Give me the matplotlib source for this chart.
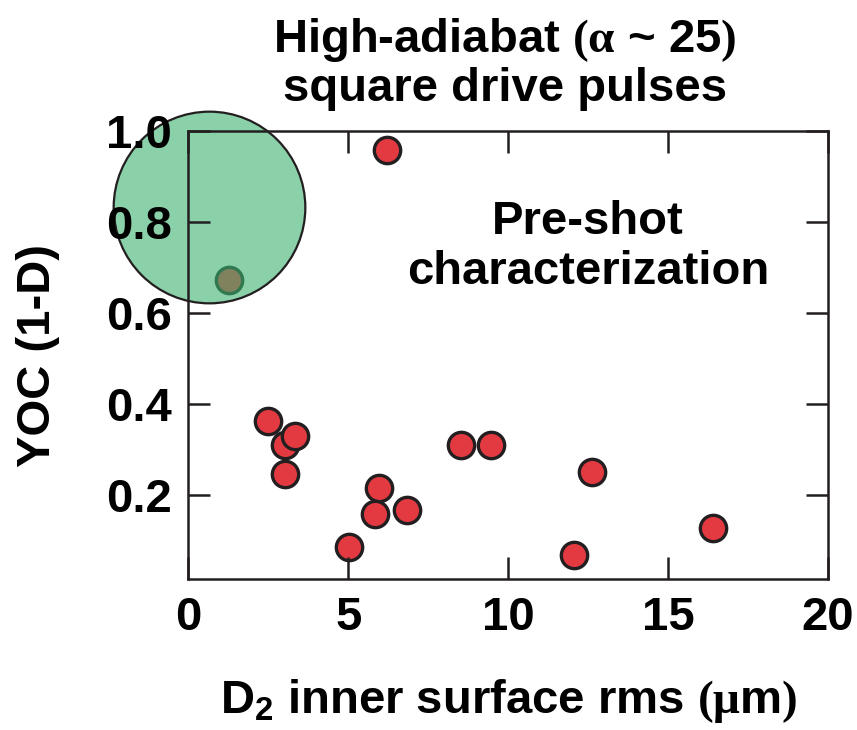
import numpy as np
import matplotlib
matplotlib.use('Agg')
from matplotlib import pyplot as plt

# pre-shot characterization: D2 inner surface roughness vs yield-over-clean
rms = [6.21, 1.27, 2.50, 3.01, 3.34, 3.03, 5.95, 5.85, 6.84, 5.03, 8.53, 9.45, 12.63, 12.05, 16.39]
yoc = [0.959, 0.673, 0.362, 0.309, 0.329, 0.245, 0.215, 0.157, 0.166, 0.085, 0.309, 0.309, 0.250, 0.067, 0.127]

# highlighted shot (green circle)
hl_x, hl_y = 0.65, 0.833

plt.rcParams['font.family'] = ['Liberation Sans', 'DejaVu Sans']
plt.rcParams['font.weight'] = 'bold'
plt.rcParams['axes.labelweight'] = 'bold'
plt.rcParams['mathtext.fontset'] = 'custom'
plt.rcParams['mathtext.bf'] = 'Liberation Sans:bold'
plt.rcParams['mathtext.rm'] = 'Liberation Serif'
plt.rcParams['mathtext.it'] = 'Liberation Serif:italic'
fs = 34

fig = plt.figure(figsize=(8.57, 7.3), dpi=100)
ax = fig.add_axes([0.2197, 0.2068, 0.7465, 0.6137])

ax.scatter(rms, yoc, s=360, c='#e33a42', edgecolors='#231f20', linewidths=2.4, zorder=1.0, clip_on=False)
ax.plot(hl_x, hl_y, 'o', markersize=138, markerfacecolor=(0.235, 0.70, 0.44, 0.6),
        markeredgecolor='#231f20', markeredgewidth=1.6, zorder=1.2, clip_on=False)

ax.set_xlim(0, 20)
ax.set_ylim(0.015, 1.0)
ax.set_xticks([0, 5, 10, 15, 20])
ax.set_yticks([0.2, 0.4, 0.6, 0.8, 1.0])
ax.set_yticklabels(['0.2', '0.4', '0.6', '0.8', '1.0'])
ax.tick_params(direction='in', length=16, width=1.8, color='#231f20', labelsize=fs,
               top=True, right=True, pad=12)
for s in ax.spines.values():
    s.set_linewidth(1.8)
    s.set_color('#231f20')

ax.set_xlabel(r'$\mathbf{D_2}$ inner surface rms $\mathrm{(\mu}$m$\mathrm{)}$', fontsize=fs, labelpad=27)
ax.set_ylabel('YOC (1-D)', fontsize=fs, labelpad=33)

fig.text(0.589, 0.945, r'High-adiabat $\mathrm{(\alpha}$ ~ 25$\mathrm{)}$', fontsize=fs, ha='center', va='center')
fig.text(0.589, 0.878, 'square drive pulses', fontsize=fs, ha='center', va='center')
fig.text(0.686, 0.696, 'Pre-shot', fontsize=fs, ha='center', va='center')
fig.text(0.686, 0.627, 'characterization', fontsize=fs, ha='center', va='center')

fig.savefig('out.png', dpi=100)
